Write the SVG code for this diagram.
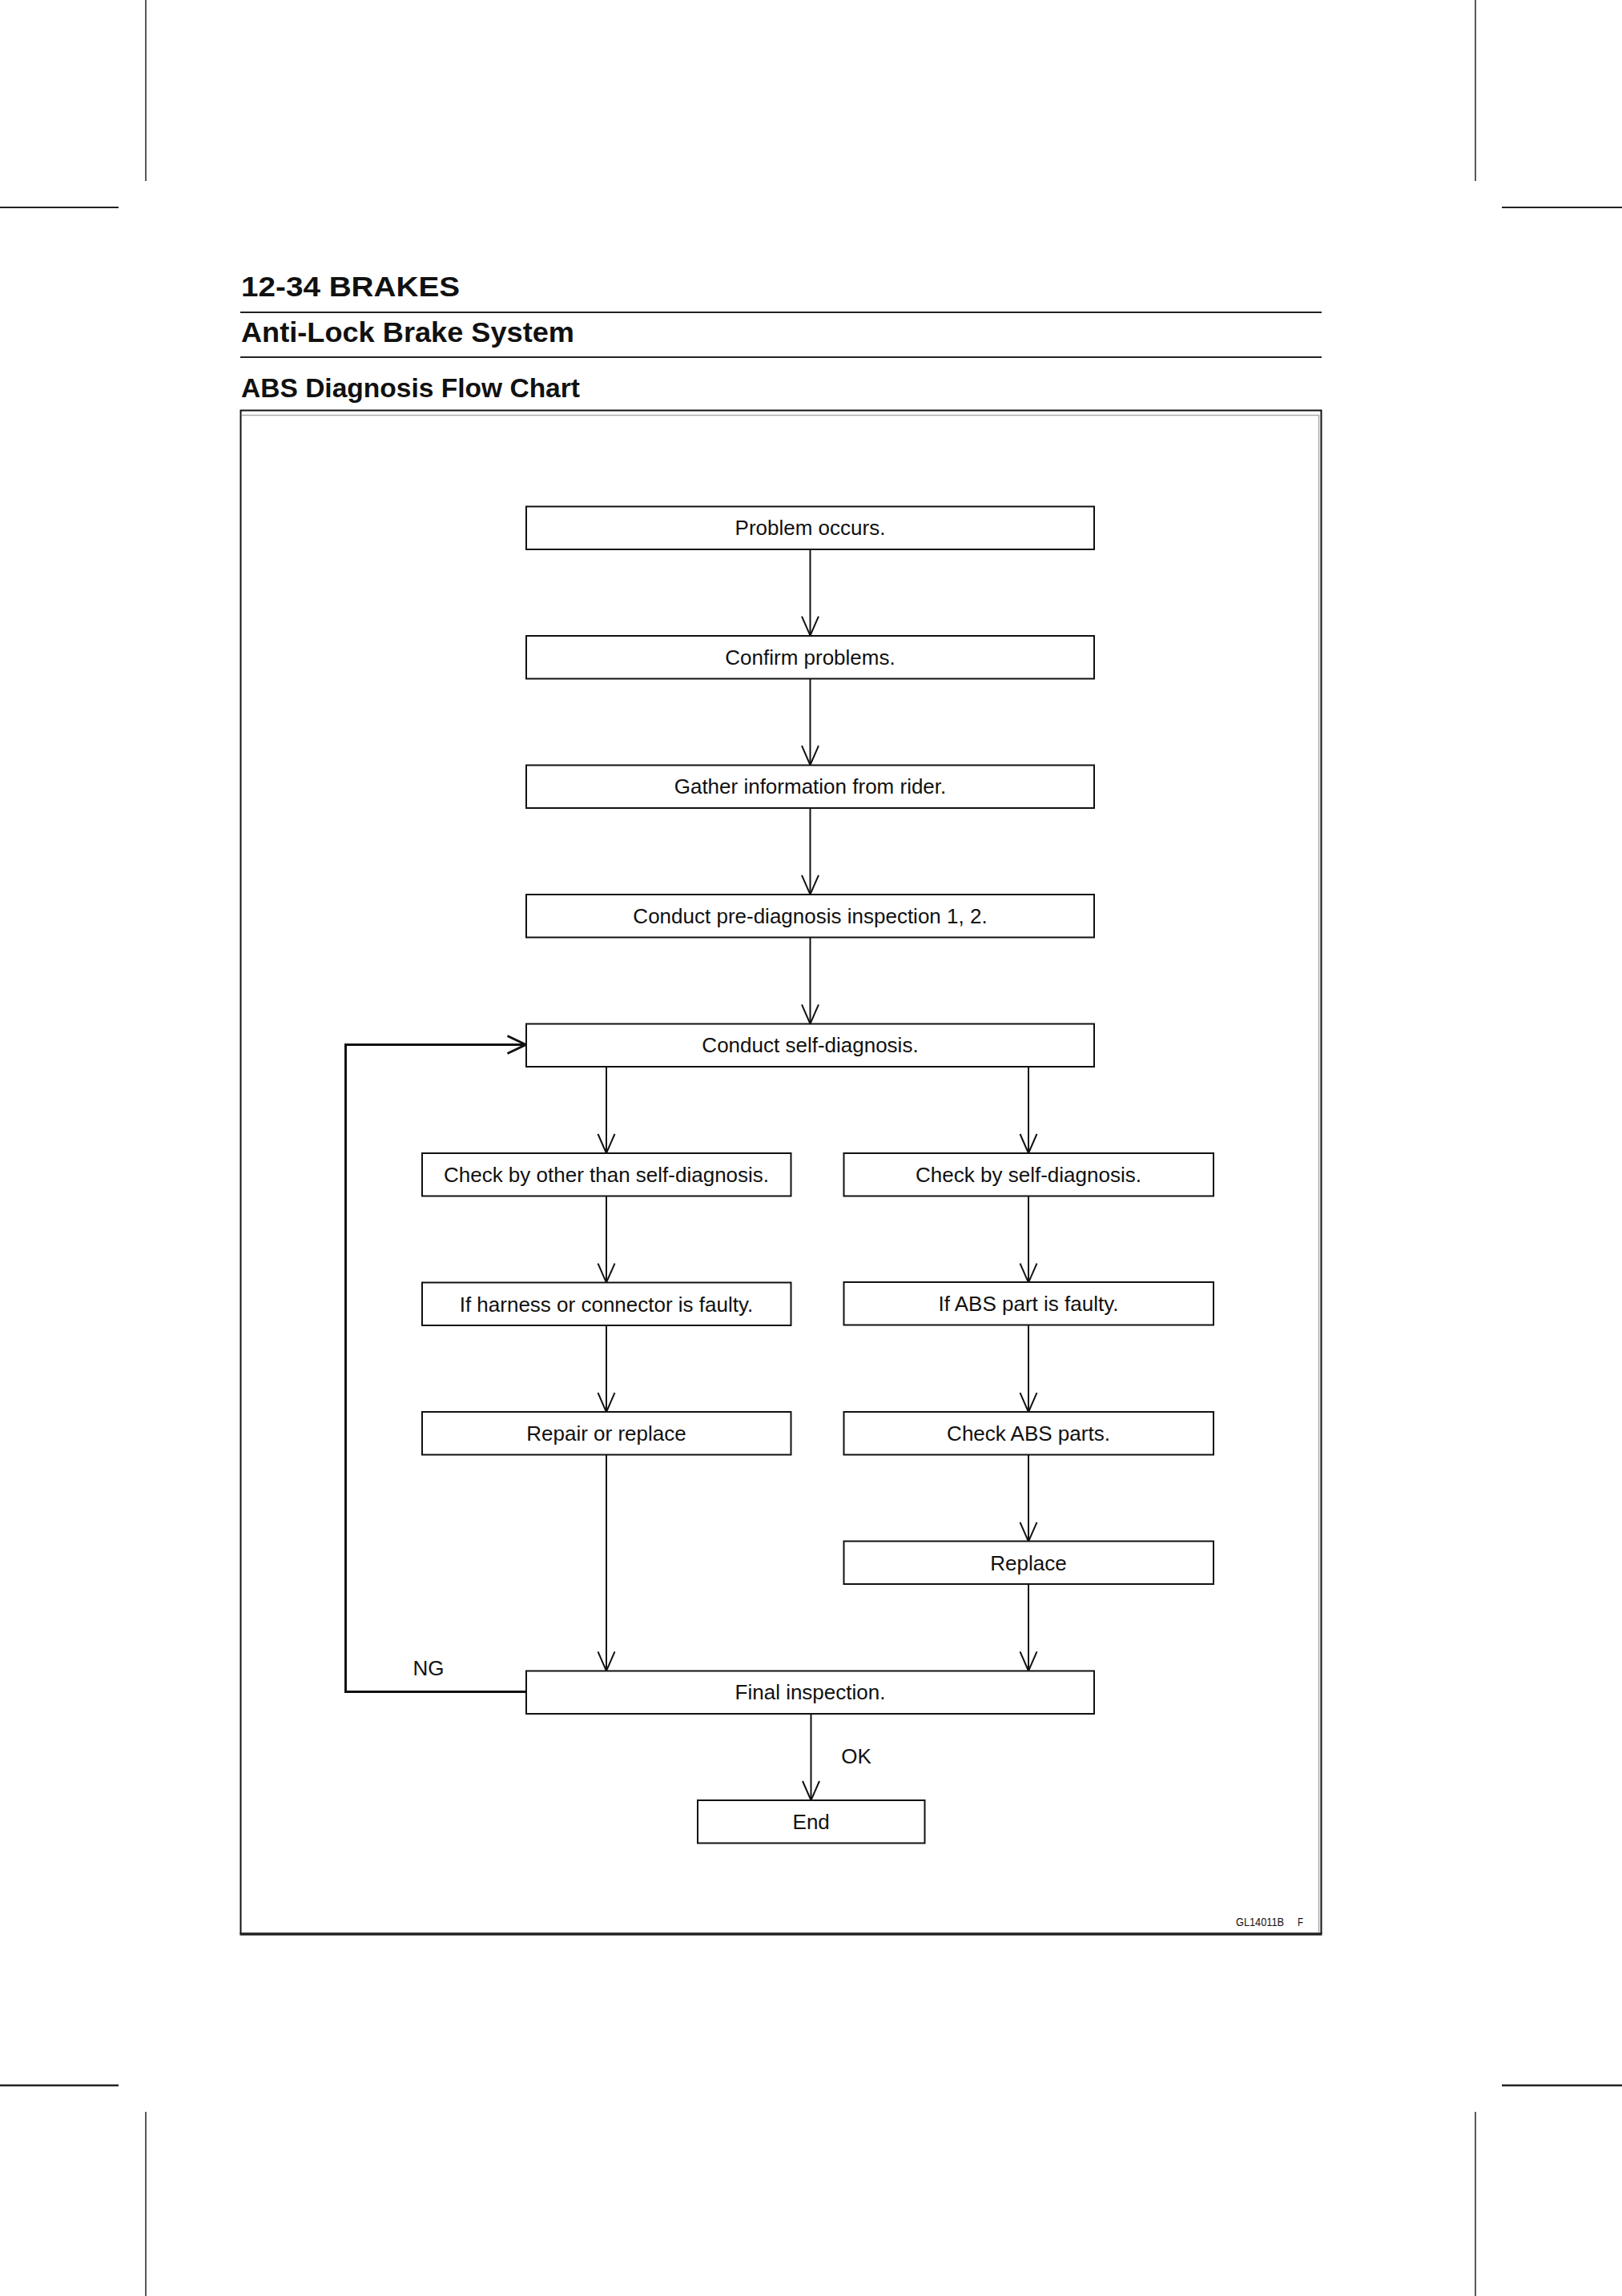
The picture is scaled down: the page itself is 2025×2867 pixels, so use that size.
<svg xmlns="http://www.w3.org/2000/svg" width="2025" height="2867" viewBox="0 0 2025 2867">
<style>
.box{fill:#fff;stroke:#111;stroke-width:2}
.t{font-family:"Liberation Sans",Arial,sans-serif;font-size:26px;fill:#111;text-anchor:middle}
.h{font-family:"Liberation Sans",Arial,sans-serif;font-weight:bold;fill:#111}
.c{fill:none;stroke:#111;stroke-width:2}
.loop{fill:none;stroke:#111;stroke-width:3}
.crop{stroke:#222;fill:none}
</style>
<defs>
<marker id="ah" markerUnits="userSpaceOnUse" viewBox="-27 -13 30 26" markerWidth="30" markerHeight="26" refX="0" refY="0" orient="auto">
<path d="M-24,-10.5 L0,0 L-24,10.5" fill="none" stroke="#111" stroke-width="2"/>
</marker>
<marker id="ah3" markerUnits="userSpaceOnUse" viewBox="-27 -13 30 26" markerWidth="30" markerHeight="26" refX="0" refY="0" orient="auto">
<path d="M-23,-11 L0,0 L-23,11" fill="none" stroke="#111" stroke-width="3"/>
</marker>
</defs>
<rect x="0" y="0" width="2025" height="2867" fill="#fff"/>
<g id="cropmarks">
<line class="crop" x1="182" y1="0" x2="182" y2="226" stroke-width="1.5"/>
<line class="crop" x1="1842" y1="0" x2="1842" y2="226" stroke-width="1.5"/>
<line class="crop" x1="0" y1="259" x2="148" y2="259" stroke-width="2"/>
<line class="crop" x1="1875" y1="259" x2="2025" y2="259" stroke-width="2"/>
<line class="crop" x1="0" y1="2604" x2="148" y2="2604" stroke-width="2.5"/>
<line class="crop" x1="1875" y1="2604" x2="2025" y2="2604" stroke-width="2.5"/>
<line class="crop" x1="182" y1="2637" x2="182" y2="2867" stroke-width="1.5"/>
<line class="crop" x1="1842" y1="2637" x2="1842" y2="2867" stroke-width="1.5"/>
</g>
<g id="header">
<text class="h" x="301" y="370" font-size="35" textLength="273" lengthAdjust="spacingAndGlyphs">12-34 BRAKES</text>
<line x1="300" y1="390" x2="1650" y2="390" stroke="#222" stroke-width="2"/>
<text class="h" x="301" y="426.5" font-size="35" textLength="416" lengthAdjust="spacingAndGlyphs">Anti-Lock Brake System</text>
<line x1="300" y1="446" x2="1650" y2="446" stroke="#222" stroke-width="2"/>
<text class="h" x="301" y="496" font-size="34" textLength="423" lengthAdjust="spacingAndGlyphs">ABS Diagnosis Flow Chart</text>
</g>
<g id="frame">
<path d="M300.5,2415 L300.5,512.5 L1649.5,512.5 L1649.5,2415" fill="none" stroke="#111" stroke-width="2"/>
<line x1="299.5" y1="2415" x2="1650.5" y2="2415" stroke="#222" stroke-width="3.5"/>
<path d="M302,518.5 L1646.5,518.5 L1646.5,2413" fill="none" stroke="#aaa" stroke-width="1.5"/>
<text x="1543" y="2405" font-family="'Liberation Sans',Arial,sans-serif" font-size="14" fill="#111" textLength="60" lengthAdjust="spacingAndGlyphs">GL14011B</text>
<text x="1620" y="2405" font-family="'Liberation Sans',Arial,sans-serif" font-size="14" fill="#111" textLength="7" lengthAdjust="spacingAndGlyphs">F</text>
</g>
<g id="connectors">
<line class="c" x1="1011.5" y1="686" x2="1011.5" y2="793.6" marker-end="url(#ah)"/>
<line class="c" x1="1011.5" y1="847.1" x2="1011.5" y2="955.2" marker-end="url(#ah)"/>
<line class="c" x1="1011.5" y1="1008.7" x2="1011.5" y2="1116.8" marker-end="url(#ah)"/>
<line class="c" x1="1011.5" y1="1170.3" x2="1011.5" y2="1278.4" marker-end="url(#ah)"/>
<line class="c" x1="757" y1="1331.9" x2="757" y2="1440" marker-end="url(#ah)"/>
<line class="c" x1="1284" y1="1331.9" x2="1284" y2="1440" marker-end="url(#ah)"/>
<line class="c" x1="757" y1="1493.5" x2="757" y2="1601.6" marker-end="url(#ah)"/>
<line class="c" x1="757" y1="1655.1" x2="757" y2="1763.2" marker-end="url(#ah)"/>
<line class="c" x1="757" y1="1816.7" x2="757" y2="2086.4" marker-end="url(#ah)"/>
<line class="c" x1="1284" y1="1493.5" x2="1284" y2="1601.6" marker-end="url(#ah)"/>
<line class="c" x1="1284" y1="1655.1" x2="1284" y2="1763.2" marker-end="url(#ah)"/>
<line class="c" x1="1284" y1="1816.7" x2="1284" y2="1924.8" marker-end="url(#ah)"/>
<line class="c" x1="1284" y1="1978.3" x2="1284" y2="2086.4" marker-end="url(#ah)"/>
<line class="c" x1="1012.5" y1="2139.9" x2="1012.5" y2="2248" marker-end="url(#ah)"/>
<path class="loop" d="M656,2112.5 L431.5,2112.5 L431.5,1304.5 L656.5,1304.5" marker-end="url(#ah3)"/>
<text class="t" x="535" y="2092" style="text-anchor:middle">NG</text>
<text class="t" x="1069" y="2202" style="text-anchor:middle">OK</text>
</g>
<g id="n1"><rect class="box" x="657" y="632.5" width="709" height="53.5"/><text class="t" x="1011.5" y="668">Problem occurs.</text></g>
<g id="n2"><rect class="box" x="657" y="794" width="709" height="53.5"/><text class="t" x="1011.5" y="829.6">Confirm problems.</text></g>
<g id="n3"><rect class="box" x="657" y="955.5" width="709" height="53.5"/><text class="t" x="1011.5" y="991.2">Gather information from rider.</text></g>
<g id="n4"><rect class="box" x="657" y="1117" width="709" height="53.5"/><text class="t" x="1011.5" y="1152.8">Conduct pre-diagnosis inspection 1, 2.</text></g>
<g id="n5"><rect class="box" x="657" y="1278.5" width="709" height="53.5"/><text class="t" x="1011.5" y="1314.4">Conduct self-diagnosis.</text></g>
<g id="n6"><rect class="box" x="527" y="1440" width="460.5" height="53.5"/><text class="t" x="757" y="1476">Check by other than self-diagnosis.</text></g>
<g id="n7"><rect class="box" x="1053.5" y="1440" width="461.5" height="53.5"/><text class="t" x="1284" y="1476">Check by self-diagnosis.</text></g>
<g id="n8"><rect class="box" x="527" y="1601.5" width="460.5" height="53.5"/><text class="t" x="757" y="1637.6">If harness or connector is faulty.</text></g>
<g id="n9"><rect class="box" x="1053.5" y="1601" width="461.5" height="53.5"/><text class="t" x="1284" y="1636.6">If ABS part is faulty.</text></g>
<g id="n10"><rect class="box" x="527" y="1763" width="460.5" height="53.5"/><text class="t" x="757" y="1799.2">Repair or replace</text></g>
<g id="n11"><rect class="box" x="1053.5" y="1763" width="461.5" height="53.5"/><text class="t" x="1284" y="1799.2">Check ABS parts.</text></g>
<g id="n12"><rect class="box" x="1053.5" y="1924.5" width="461.5" height="53.5"/><text class="t" x="1284" y="1960.8">Replace</text></g>
<g id="n13"><rect class="box" x="657" y="2086.5" width="709" height="53.5"/><text class="t" x="1011.5" y="2122.4">Final inspection.</text></g>
<g id="n14"><rect class="box" x="871" y="2248" width="283.5" height="53.5"/><text class="t" x="1012.7" y="2284">End</text></g>
</svg>
